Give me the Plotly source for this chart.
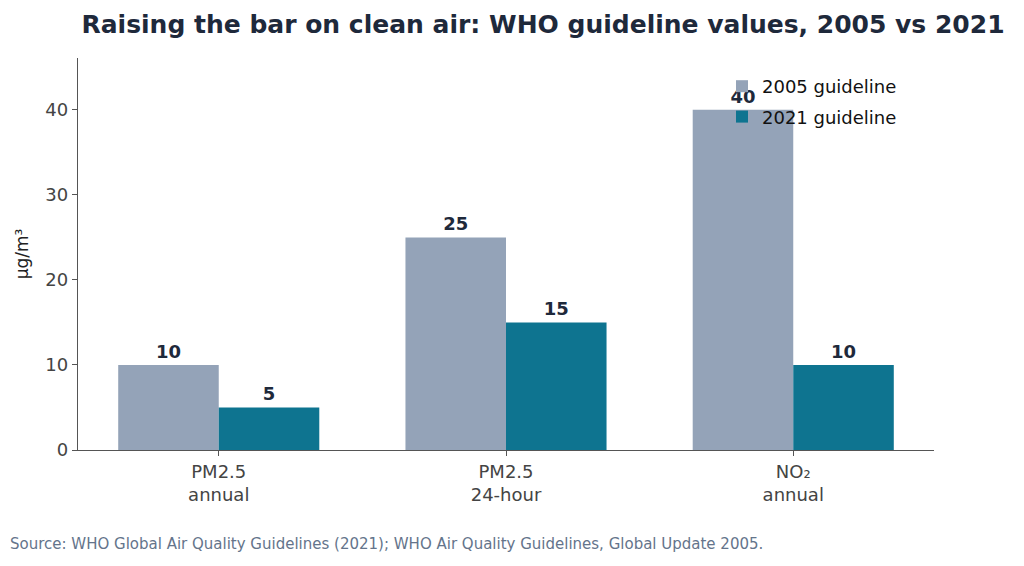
import plotly.graph_objects as go

categories = ["PM2.5<br>annual", "PM2.5<br>24-hour", "NO₂<br>annual"]
values_2005 = [10, 25, 40]
values_2021 = [5, 15, 10]
series_names = ["2005 guideline", "2021 guideline"]
colors = ["#94a3b8", "#0e7490"]

# page renders with an 8px body offset; layout positions compensate for it
W, H = 1024, 566
L, R, T, B = 70, 98, 50, 124
PW, PH = W - L - R, H - T - B

fig = go.Figure()
for name, vals, col in zip(series_names, [values_2005, values_2021], colors):
    fig.add_trace(go.Bar(
        x=categories, y=vals, name=name, legendgroup=name,
        marker_color=col, marker_line_width=0,
        text=vals, texttemplate="<b>%{text}</b>", textposition="outside",
        textfont=dict(size=18, color="#1e293b", family="DejaVu Sans"),
        cliponaxis=False,
    ))

fig.update_layout(
    width=W, height=H,
    margin=dict(l=L, r=R, t=T, b=B),
    barmode="group", bargap=0.3, bargroupgap=0,
    plot_bgcolor="white", paper_bgcolor="white",
    font=dict(family="DejaVu Sans", size=18, color="#444444"),
    title=dict(
        text="<b>Raising the bar on clean air: WHO guideline values, 2005 vs 2021</b>",
        x=535 / W, xanchor="center", y=1 - 16 / H, yanchor="middle",
        font=dict(size=25, color="#1e293b", family="DejaVu Sans"),
    ),
    legend=dict(
        x=(714 - L) / PW, y=1 - (60 - T) / PH,
        xanchor="left", yanchor="top", bgcolor="rgba(0,0,0,0)",
        font=dict(size=18, color="#111111"), tracegroupgap=4,
    ),
    xaxis=dict(
        type="category", range=[-0.49, 2.49],
        showline=True, linecolor="#555555", linewidth=1.3,
        ticks="outside", ticklen=5, tickcolor="#555555",
        tickfont=dict(size=18, color="#444444"), showgrid=False,
    ),
    yaxis=dict(
        range=[0, 46.1], tickvals=[0, 10, 20, 30, 40],
        showline=True, linecolor="#555555", linewidth=1.3,
        ticks="outside", ticklen=5, tickcolor="#555555",
        tickfont=dict(size=18, color="#444444"), showgrid=False, zeroline=False,
        title=dict(text="µg/m³", font=dict(size=17, color="#222222"), standoff=12),
    ),
    annotations=[dict(
        text="Source: WHO Global Air Quality Guidelines (2021); WHO Air Quality Guidelines, Global Update 2005.",
        xref="paper", yref="paper", x=-L / PW, y=-(536 - (T + PH)) / PH,
        xanchor="left", yanchor="middle", showarrow=False,
        font=dict(size=15, color="#64748b"),
    )],
)

fig.write_html("out.html")
